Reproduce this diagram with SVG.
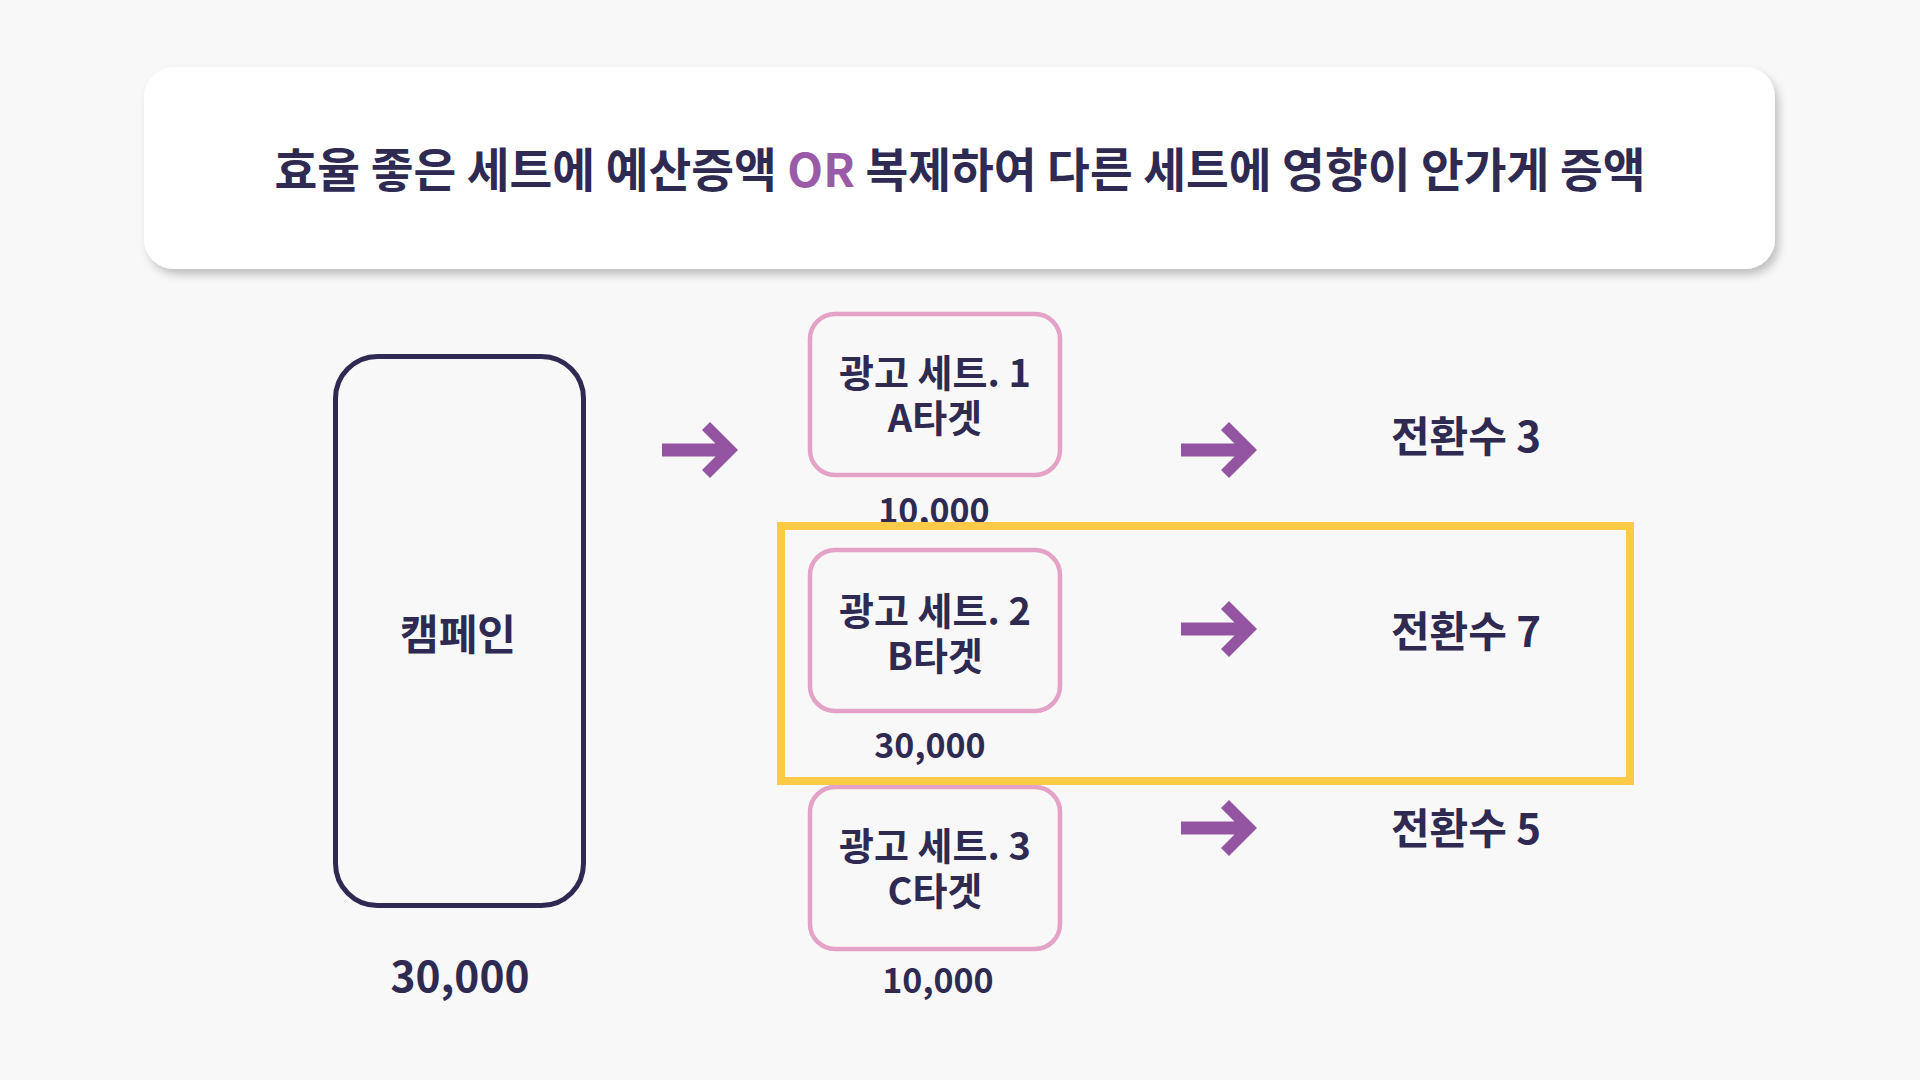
<svg xmlns="http://www.w3.org/2000/svg" xmlns:xlink="http://www.w3.org/1999/xlink" width="1920" height="1080" viewBox="0 0 1920 1080">
<defs>
<filter id="shadow" x="-5%" y="-20%" width="110%" height="150%">
<feDropShadow dx="4" dy="6" stdDeviation="4" flood-color="#000" flood-opacity="0.22"/>
</filter>
<path id="arrow" d="M0,0 L-28,-28 L-36,-20 L-22.5,-6.5 L-76,-6.5 L-76,6.5 L-22.5,6.5 L-36,20 L-28,28 Z"/>
<style>
.t{font-family:"Noto Sans CJK KR","Noto Sans",sans-serif;font-weight:700;fill:#2E2A52;text-anchor:middle}
.set{fill:none;stroke:#E3A2C6;stroke-width:4.5}
.arr{fill:#9355A1}
</style>
</defs>
<rect width="1920" height="1080" fill="#F8F8F8"/>
<g id="title">
<rect x="144" y="67" width="1631" height="202" rx="30" fill="#FFFFFF" filter="url(#shadow)"/>
<text class="t" x="960" y="187" font-size="46.5">효율 좋은 세트에 예산증액 <tspan fill="#9A5AA8">OR</tspan> 복제하여 다른 세트에 영향이 안가게 증액</text>
</g>
<g id="campaign">
<rect x="335.5" y="356.5" width="248" height="549" rx="42" fill="none" stroke="#2E2A52" stroke-width="5"/>
<text class="t" x="458" y="650" font-size="42">캠페인</text>
<text class="t" x="460" y="992" font-size="42.5">30,000</text>
</g>
<g id="set1">
<rect class="set" x="810" y="314" width="250" height="161" rx="25"/>
<text class="t" font-size="38"><tspan x="935" y="387">광고 세트. 1</tspan><tspan x="935" y="432">A타겟</tspan></text>
<text class="t" x="934" y="523" font-size="34">10,000</text>
</g>
<g id="set2">
<rect class="set" x="810" y="550" width="250" height="161" rx="25"/>
<text class="t" font-size="38"><tspan x="935" y="625">광고 세트. 2</tspan><tspan x="935" y="670">B타겟</tspan></text>
<text class="t" x="930" y="758" font-size="34">30,000</text>
</g>
<g id="set3">
<rect class="set" x="810" y="787" width="250" height="162" rx="25"/>
<text class="t" font-size="38"><tspan x="935" y="860">광고 세트. 3</tspan><tspan x="935" y="905">C타겟</tspan></text>
<text class="t" x="938" y="993" font-size="34">10,000</text>
</g>
<g id="result1"><text class="t" x="1466" y="452" font-size="42">전환수 3</text></g>
<g id="result2"><text class="t" x="1466" y="647" font-size="42">전환수 7</text></g>
<g id="result3"><text class="t" x="1466" y="844" font-size="42">전환수 5</text></g>
<g id="highlight">
<rect x="781" y="526" width="849" height="255" fill="none" stroke="#FFCA47" stroke-width="8"/>
</g>
<g id="connectors" class="arr">
<use xlink:href="#arrow" transform="translate(738,450)"/>
<use xlink:href="#arrow" transform="translate(1257,450)"/>
<use xlink:href="#arrow" transform="translate(1257,629)"/>
<use xlink:href="#arrow" transform="translate(1257,828)"/>
</g>
</svg>
